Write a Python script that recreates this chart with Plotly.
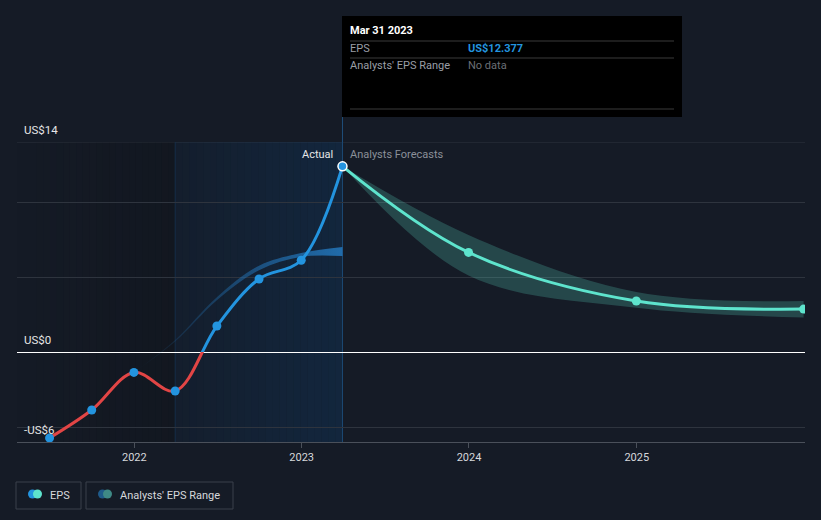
import pandas as pd
import plotly.graph_objects as go

# ---------------- data ----------------
eps_dates = ["2021-06-30", "2021-09-30", "2021-12-31", "2022-03-31",
             "2022-06-30", "2022-09-30", "2022-12-31", "2023-03-31"]
eps_values = [-5.73, -3.87, -1.36, -2.6, 1.73, 4.87, 6.12, 12.377]

fc_dates = ["2023-03-31", "2023-12-31", "2024-12-31", "2025-12-31"]
fc_values = [12.377, 6.64, 3.4, 2.86]
fc_low = [12.377, 5.1, 2.95, 2.3]
fc_high = [12.377, 7.8, 4.0, 3.4]

past_range_dates = ["2021-12-31", "2022-03-31", "2022-06-30", "2022-09-30",
                    "2022-12-31", "2023-03-31"]
past_range_low = [-1.36, 0.7, 3.45, 5.45, 6.35, 6.4]
past_range_high = [-1.36, 0.8, 3.65, 5.75, 6.6, 7.0]

x_range = ["2021-04-20", "2026-01-03"]
y_range = [-6, 14]
dark_region = ["2021-04-20", "2022-03-31"]
highlight_region = ["2022-03-31", "2023-03-31"]
year_ticks = ["2022-01-01", "2023-01-01", "2024-01-01", "2025-01-01"]
year_labels = ["2022", "2023", "2024", "2025"]
grid_vals = [-5, 0, 5, 10, 14]
y_labels = ["US$14", "US$0", "-US$6"]

BG = "#151b26"
BLUE = "#2394df"
RED = "#e24545"
MINT = "#5ee4cd"
FONT = "Roboto"

fig = go.Figure()

# past analyst range band
fig.add_trace(go.Scatter(x=past_range_dates, y=past_range_low, mode="lines",
                         line=dict(width=0, shape="spline"), hoverinfo="skip", showlegend=False))
fig.add_trace(go.Scatter(x=past_range_dates, y=past_range_high, mode="lines",
                         line=dict(width=0, shape="spline"), fill="tonexty",
                         fillgradient=dict(type="horizontal",
                                           colorscale=[[0, "rgba(35,120,190,0.0)"],
                                                       [0.5, "rgba(35,120,190,0.45)"],
                                                       [1, "rgba(35,120,190,0.85)"]]),
                         hoverinfo="skip", showlegend=False))

# forecast band
fig.add_trace(go.Scatter(x=fc_dates, y=fc_low, mode="lines",
                         line=dict(width=0, shape="spline"), hoverinfo="skip", showlegend=False))
fig.add_trace(go.Scatter(x=fc_dates, y=fc_high, mode="lines",
                         line=dict(width=0, shape="spline"), fill="tonexty",
                         fillcolor="rgba(94,228,205,0.22)", hoverinfo="skip", showlegend=False))

# forecast line
fig.add_trace(go.Scatter(x=fc_dates, y=fc_values, mode="lines+markers",
                         line=dict(color=MINT, width=3, shape="spline"),
                         marker=dict(color=MINT, size=9), showlegend=False))

# actual EPS: red part (negative) clipped by y2, blue part (positive) clipped by y3
fig.add_trace(go.Scatter(x=eps_dates, y=eps_values, mode="lines", yaxis="y2",
                         line=dict(color=RED, width=3, shape="spline"), showlegend=False))
fig.add_trace(go.Scatter(x=eps_dates, y=eps_values, mode="lines", yaxis="y3",
                         line=dict(color=BLUE, width=3, shape="spline"), showlegend=False))
fig.add_trace(go.Scatter(x=eps_dates, y=eps_values, mode="markers", yaxis="y4",
                         marker=dict(color=BLUE, size=9,
                                     line=dict(color="white",
                                               width=[0] * (len(eps_values) - 1) + [1.5])),
                         showlegend=False))

# ---------------- layout ----------------
L, R, T, B = 17, 16, 142, 78
W, H = 821, 520
PW, PH = W - L - R, H - T - B


def px(x):
    return (x - L) / PW


def py(y):
    return (H - B - y) / PH


shapes = []


def gradient_rect(start, end, rgb, a0, a1, steps=24):
    t0, t1 = pd.Timestamp(start), pd.Timestamp(end)
    edges = [t0 + (t1 - t0) * i / steps for i in range(steps + 1)]
    for i in range(steps):
        a = a0 + (a1 - a0) * (i + 0.5) / steps
        shapes.append(dict(type="rect", xref="x", yref="y",
                           x0=edges[i].strftime("%Y-%m-%d %H:%M:%S"),
                           x1=edges[i + 1].strftime("%Y-%m-%d %H:%M:%S"),
                           y0=y_range[0], y1=y_range[1], layer="below",
                           fillcolor=f"rgba({rgb[0]},{rgb[1]},{rgb[2]},{a:.3f})",
                           line=dict(width=0)))


gradient_rect(dark_region[0], dark_region[1], (8, 10, 12), 0.0, 0.2)
gradient_rect(highlight_region[0], highlight_region[1], (16, 55, 95), 0.12, 0.42)

# top gridline
shapes.append(dict(type="line", xref="paper", yref="y", x0=0, x1=1, y0=14, y1=14,
                   line=dict(color="#2e343e", width=1), layer="between"))
# region boundary lines
shapes.append(dict(type="line", xref="x", yref="paper", x0=highlight_region[0], x1=highlight_region[0],
                   y0=0, y1=1, line=dict(color="#19334d", width=1), layer="between"))
shapes.append(dict(type="line", xref="x", yref="paper", x0=highlight_region[1], x1=highlight_region[1],
                   y0=0, y1=py(117), line=dict(color="#1f4f7a", width=1), layer="between"))
# tooltip box
shapes.append(dict(type="rect", xref="paper", yref="paper", x0=px(342), x1=px(682),
                   y0=py(117), y1=py(16), fillcolor="#000000", line=dict(width=0)))
for yy in (41, 58, 109):
    shapes.append(dict(type="line", xref="paper", yref="paper", x0=px(350), x1=px(674),
                       y0=py(yy), y1=py(yy), line=dict(color="#3a3a3a", width=1)))
# legend boxes
for x0, x1 in ((16, 81), (86, 233)):
    shapes.append(dict(type="rect", xref="paper", yref="paper", x0=px(x0), x1=px(x1),
                       y0=py(509), y1=py(482), line=dict(color="#3b414b", width=1),
                       fillcolor="rgba(0,0,0,0)"))
for cx, col in ((32.5, BLUE), (37.5, MINT), (102.5, "#1f5b8a"), (107.5, "#3f8a86")):
    shapes.append(dict(type="circle", xref="paper", yref="paper", xsizemode="pixel",
                       ysizemode="pixel", xanchor=px(cx), yanchor=py(494),
                       x0=-4.5, x1=4.5, y0=-4.5, y1=4.5, fillcolor=col, line=dict(width=0)))


def note(text, x, y, size, color, xanchor="left", xref="paper", xshift=0):
    return dict(text=text, xref=xref, yref="paper", x=x, y=y, xanchor=xanchor,
                yanchor="middle", xshift=xshift, showarrow=False,
                font=dict(family=FONT, size=size, color=color))


annotations = []
for txt, yy in zip(y_labels, (130, 340, 430)):
    annotations.append(note(txt, px(22), py(yy), 11.5, "#e6e6e6"))
annotations.append(note("Actual", fc_dates[0], py(154), 11, "#e6e6e6",
                        xanchor="right", xref="x", xshift=-7))
annotations.append(note("Analysts Forecasts", fc_dates[0], py(154), 11, "#8b9099",
                        xanchor="left", xref="x", xshift=6))
# tooltip texts
annotations.append(note("<b>Mar 31 2023</b>", px(348), py(31), 11, "#ffffff"))
annotations.append(note("EPS", px(348), py(49), 11, "#9a9ea6"))
annotations.append(note("<b>US$12.377</b>", px(466), py(49), 11, BLUE))
annotations.append(note("Analysts' EPS Range", px(348), py(66), 11, "#9a9ea6"))
annotations.append(note("No data", px(466), py(66), 11, "#6b6f76"))
# legend texts
annotations.append(note("EPS", px(48), py(495), 11, "#d6d8dc"))
annotations.append(note("Analysts' EPS Range", px(118), py(495), 11, "#d6d8dc"))

hidden = dict(visible=False, showgrid=False, zeroline=False, fixedrange=True)

fig.update_layout(
    width=W, height=H,
    margin=dict(l=L, r=R, t=T, b=B),
    paper_bgcolor=BG, plot_bgcolor="rgba(0,0,0,0)",
    font=dict(family=FONT, color="#d6d8dc"),
    showlegend=False,
    hovermode=False,
    xaxis=dict(type="date", range=x_range, tickvals=year_ticks, ticktext=year_labels,
               showgrid=False, zeroline=False, showline=True, linecolor="#4a505a", linewidth=1,
               ticks="outside", ticklen=5, tickcolor="#4a505a",
               tickfont=dict(family=FONT, size=11, color="#d6d8dc"), fixedrange=True),
    yaxis=dict(range=y_range, tickvals=grid_vals, showticklabels=False, showgrid=True,
               gridcolor="#2e343e", gridwidth=1, zeroline=True, zerolinecolor="#ffffff",
               zerolinewidth=1, fixedrange=True),
    yaxis2=dict(domain=[0, 0.3], range=[-6, 0], anchor="x", **hidden),
    yaxis3=dict(domain=[0.3, 1], range=[0, 14], anchor="x", **hidden),
    yaxis4=dict(domain=[0, 1], range=y_range, anchor="x", **hidden),
    shapes=shapes,
    annotations=annotations,
)

fig.write_html("out.html", config={"displayModeBar": False},
               post_script="document.body.style.margin='0';")
